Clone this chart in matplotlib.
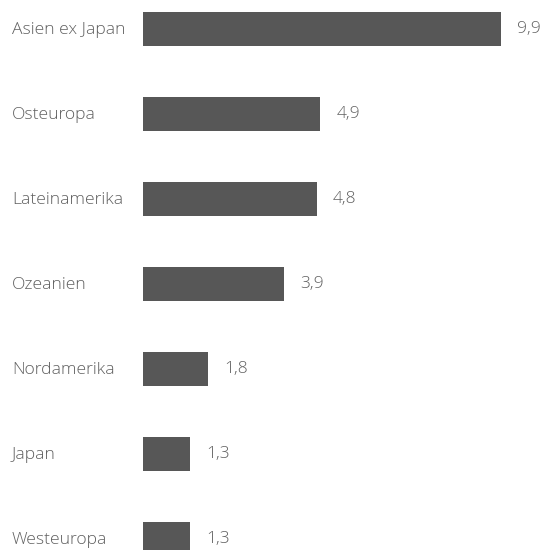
import matplotlib
matplotlib.use("Agg")
import matplotlib.pyplot as plt

categories = ["Asien ex Japan", "Osteuropa", "Lateinamerika", "Ozeanien",
              "Nordamerika", "Japan", "Westeuropa"]
values = [9.9, 4.9, 4.8, 3.9, 1.8, 1.3, 1.3]
value_labels = ["9,9", "4,9", "4,8", "3,9", "1,8", "1,3", "1,3"]

W, H = 551, 550
fig = plt.figure(figsize=(W / 100, H / 100), dpi=100)
left_px = 143
px_per_unit = 36.2
ax = fig.add_axes([left_px / W, 0, 1 - left_px / W, 1])
ax.set_xlim(0, (W - left_px) / px_per_unit)
row_px = 85
first_px = 29
ax.set_ylim((H - first_px) / row_px, -first_px / row_px)
ax.axis("off")

bar_color = "#575757"
text_color = "#606060"
font = "Open Sans"
fs = 12.6

ys = list(range(len(categories)))
ax.barh(ys, values, height=34 / row_px, color=bar_color, left=0)

for y, v, lab, cat in zip(ys, values, value_labels, categories):
    ax.annotate(lab, xy=(v, y), xytext=(11.5, 0), textcoords="offset points",
                va="center", ha="left", fontsize=fs, color=text_color,
                family=font, fontweight="light")
    ax.text(12 / W, 1 - (first_px + 1 + row_px * y) / H, cat, transform=fig.transFigure,
            va="center", ha="left", fontsize=fs, color=text_color,
            family=font, fontweight="light")

fig.savefig("out.png", dpi=100)
